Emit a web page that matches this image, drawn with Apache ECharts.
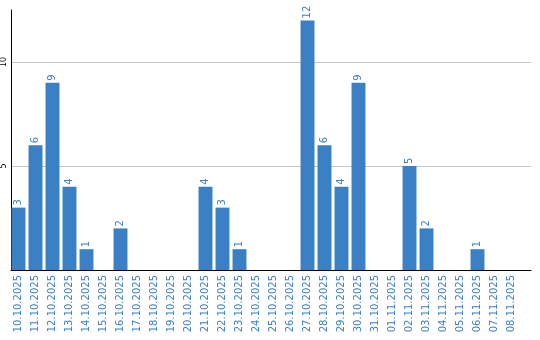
<!DOCTYPE html>
<html><head><meta charset="utf-8">
<script src="https://cdn.jsdelivr.net/npm/echarts@6/dist/echarts.min.js"></script>
<style>html,body{margin:0;padding:0;background:#fff}#c{width:540px;height:340px}</style>
</head><body><div id="c"></div>
<script>
const categories = ["10.10.2025","11.10.2025","12.10.2025","13.10.2025","14.10.2025","15.10.2025","16.10.2025","17.10.2025","18.10.2025","19.10.2025","20.10.2025","21.10.2025","22.10.2025","23.10.2025","24.10.2025","25.10.2025","26.10.2025","27.10.2025","28.10.2025","29.10.2025","30.10.2025","31.10.2025","01.11.2025","02.11.2025","03.11.2025","04.11.2025","05.11.2025","06.11.2025","07.11.2025","08.11.2025"];
const values = [3,6,9,4,1,0,2,0,0,0,0,4,3,1,0,0,0,12,6,4,9,0,0,5,2,0,0,1,0,0];
const yTicks = [5, 10];

const blue = '#3b7fc4';
const font = 'DejaVu Sans';
const chart = echarts.init(document.getElementById('c'));
chart.setOption({
  animation: false,
  grid: [
    {left: 10, top: 10, width: 521, height: 260},
    {left: 10, top: 10, width: 510, height: 260}
  ],
  xAxis: [
    {type: 'category', gridIndex: 0, data: [''], axisLine: {lineStyle: {color: '#000', width: 1}}, axisTick: {show: false}, axisLabel: {show: false}},
    {type: 'category', gridIndex: 1, data: categories, axisLine: {show: false}, axisTick: {show: false},
     axisLabel: {rotate: 90, interval: 0, color: blue, fontFamily: font, fontSize: 10, margin: 5}}
  ],
  yAxis: [
    {type: 'value', gridIndex: 0, min: 0, max: 12.5, interval: 5,
     axisLine: {show: true, lineStyle: {color: '#000', width: 1}}, axisTick: {show: false},
     splitLine: {show: true, showMaxLine: false, lineStyle: {color: '#c8c8c8'}},
     axisLabel: {rotate: 90, color: '#000', fontFamily: font, fontSize: 8, margin: 3, showMaxLabel: false,
       formatter: v => yTicks.includes(v) ? String(v) : ''}},
    {type: 'value', gridIndex: 1, min: 0, max: 12.5, show: false}
  ],
  series: [{
    type: 'bar', xAxisIndex: 1, yAxisIndex: 1, data: values.map(v => v === 0 ? null : v),
    barCategoryGap: '18%',
    itemStyle: {color: blue},
    label: {show: true, position: 'top', rotate: 90, align: 'left', verticalAlign: 'middle', distance: 2,
      color: blue, fontFamily: font, fontSize: 10}
  }]
});
</script></body></html>
